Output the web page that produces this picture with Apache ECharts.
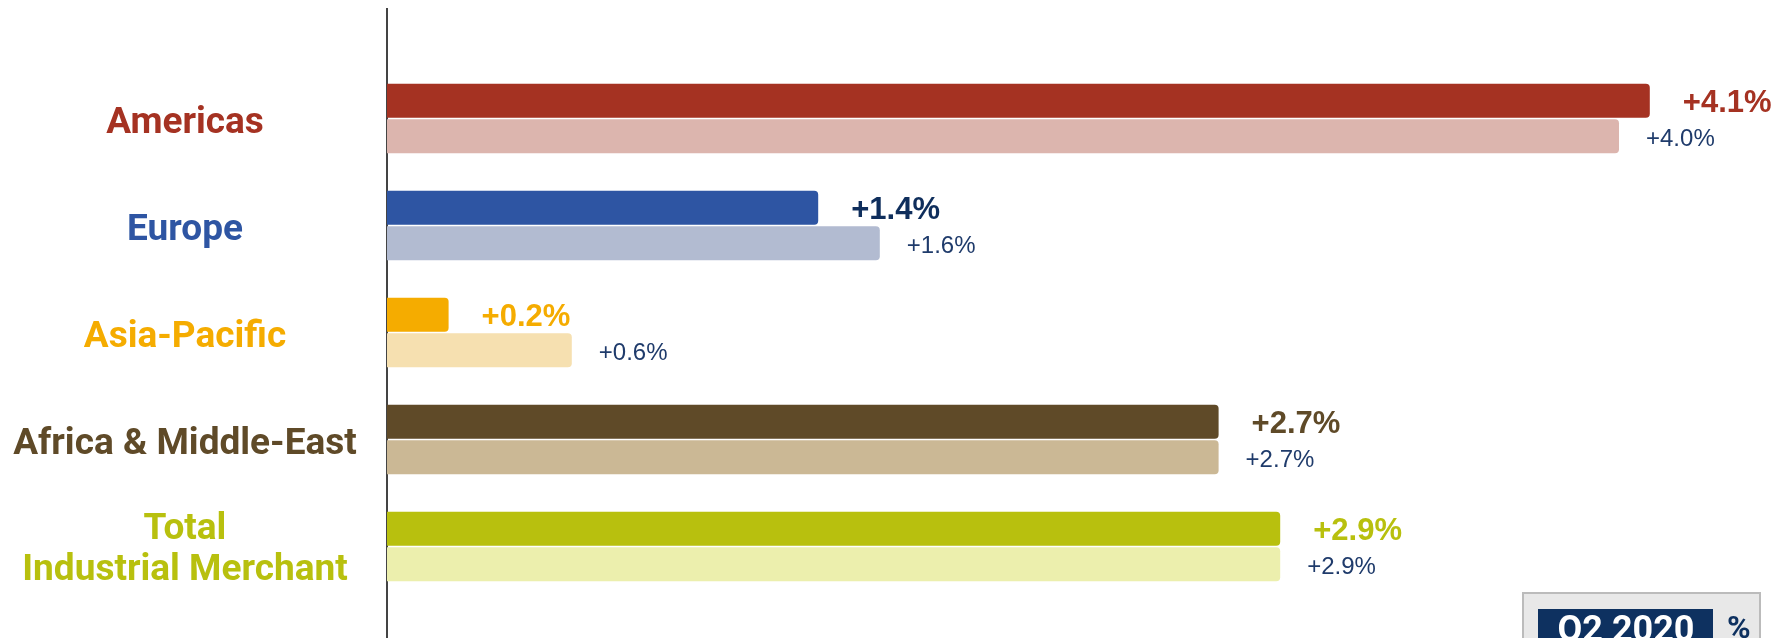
<!DOCTYPE html>
<html>
<head>
<meta charset="utf-8">
<script src="https://cdn.jsdelivr.net/npm/echarts@6/dist/echarts.min.js"></script>
<style>
  html, body { margin: 0; padding: 0; background: #fff; }
  #main { width: 1777px; height: 638px; }
</style>
</head>
<body>
<div id="main"></div>
<script>
// regions, top to bottom
var regions = ['Americas', 'Europe', 'Asia-Pacific', 'Africa & Middle-East', 'Total\nIndustrial Merchant'];
// growth in % (dark bar = Q2 2020, light bar = comparison)
var q2_2020 = [4.1, 1.4, 0.2, 2.7, 2.9];
var prior = [4.0, 1.6, 0.6, 2.7, 2.9];

var darkColors = ['#a53222', '#2e55a3', '#f5ac00', '#5f4a28', '#b8c00e'];
var lightColors = ['#dcb5ae', '#b2bbd1', '#f6e0b0', '#cbb895', '#ecefad'];
var darkLabelColors = ['#a53222', '#0f2e5c', '#f5ac00', '#5f4a28', '#b8c00e'];
var nameColors = ['#a53222', '#2e55a3', '#f5ac00', '#5f4a28', '#b8c00e'];

function pct(p) {
  return '+' + p.value.toFixed(1) + '%';
}

// rich styles so the region names sit a little below the band centre
// s = single line, t = first of two lines, r = following line
var nameRich = {};
nameColors.forEach(function (c, i) {
  var base = { color: c, fontFamily: 'Roboto', fontWeight: 'bold', fontSize: 37, lineHeight: 45 };
  nameRich['s' + i] = Object.assign({}, base, { padding: [10, 0, 0, 0] });
  nameRich['t' + i] = Object.assign({}, base, { padding: [12, 0, 0, 0] });
  nameRich['r' + i] = Object.assign({}, base, { padding: [4, 0, 0, 0] });
});

var chartDom = document.getElementById('main');
var myChart = echarts.init(chartDom);
var option;

option = {
  animation: false,
  grid: { left: 387, top: 65, height: 535, width: 1386 },
  xAxis: {
    type: 'value',
    min: 0,
    max: 4.5,
    show: false
  },
  yAxis: {
    type: 'category',
    inverse: true,
    data: regions,
    axisLine: { show: false },
    axisTick: { show: false },
    axisLabel: {
      margin: 202,
      align: 'center',
      formatter: function (value, index) {
        var lines = value.split('\n');
        return lines.map(function (line, k) {
          var key = lines.length === 1 ? 's' : (k === 0 ? 't' : 'r');
          return '{' + key + index + '|' + line + '}';
        }).join('\n');
      },
      rich: nameRich
    }
  },
  graphic: [
    {
      type: 'line',
      shape: { x1: 387, y1: 8, x2: 387, y2: 640 },
      style: { stroke: '#444', lineWidth: 2 }
    },
    {
      type: 'rect',
      shape: { x: 1523, y: 593, width: 237, height: 80 },
      style: { fill: '#e8e8e8', stroke: '#bbbbbb', lineWidth: 2 }
    },
    {
      type: 'rect',
      shape: { x: 1538, y: 609, width: 175, height: 50 },
      style: { fill: '#0e3160' }
    },
    {
      type: 'text',
      x: 1626, y: 614,
      style: {
        text: 'Q2 2020', fill: '#fff', align: 'center', verticalAlign: 'top',
        font: 'bold 36px Roboto'
      }
    },
    {
      type: 'text',
      x: 1727, y: 614,
      style: {
        text: '%', fill: '#0e3160', align: 'left', verticalAlign: 'top',
        font: 'bold 32px Roboto'
      }
    }
  ],
  series: [
    {
      name: 'Q2 2020',
      type: 'bar',
      barWidth: 34,
      barGap: '4%',
      data: q2_2020.map(function (v, i) {
        return {
          value: v,
          itemStyle: { color: darkColors[i], borderRadius: [0, 4, 4, 0] },
          label: { color: darkLabelColors[i] }
        };
      }),
      label: {
        show: true,
        position: 'right',
        distance: 33,
        offset: [0, 3],
        fontFamily: 'Liberation Sans',
        fontWeight: 'bold',
        fontSize: 31,
        formatter: pct
      }
    },
    {
      name: 'Prior',
      type: 'bar',
      barWidth: 34,
      data: prior.map(function (v, i) {
        return {
          value: v,
          itemStyle: { color: lightColors[i], borderRadius: [0, 4, 4, 0] }
        };
      }),
      label: {
        show: true,
        position: 'right',
        distance: 27,
        offset: [0, 3],
        fontFamily: 'Liberation Sans',
        fontSize: 24,
        color: '#1f3b6b',
        formatter: pct
      }
    }
  ]
};

option && myChart.setOption(option);
</script>
</body>
</html>
